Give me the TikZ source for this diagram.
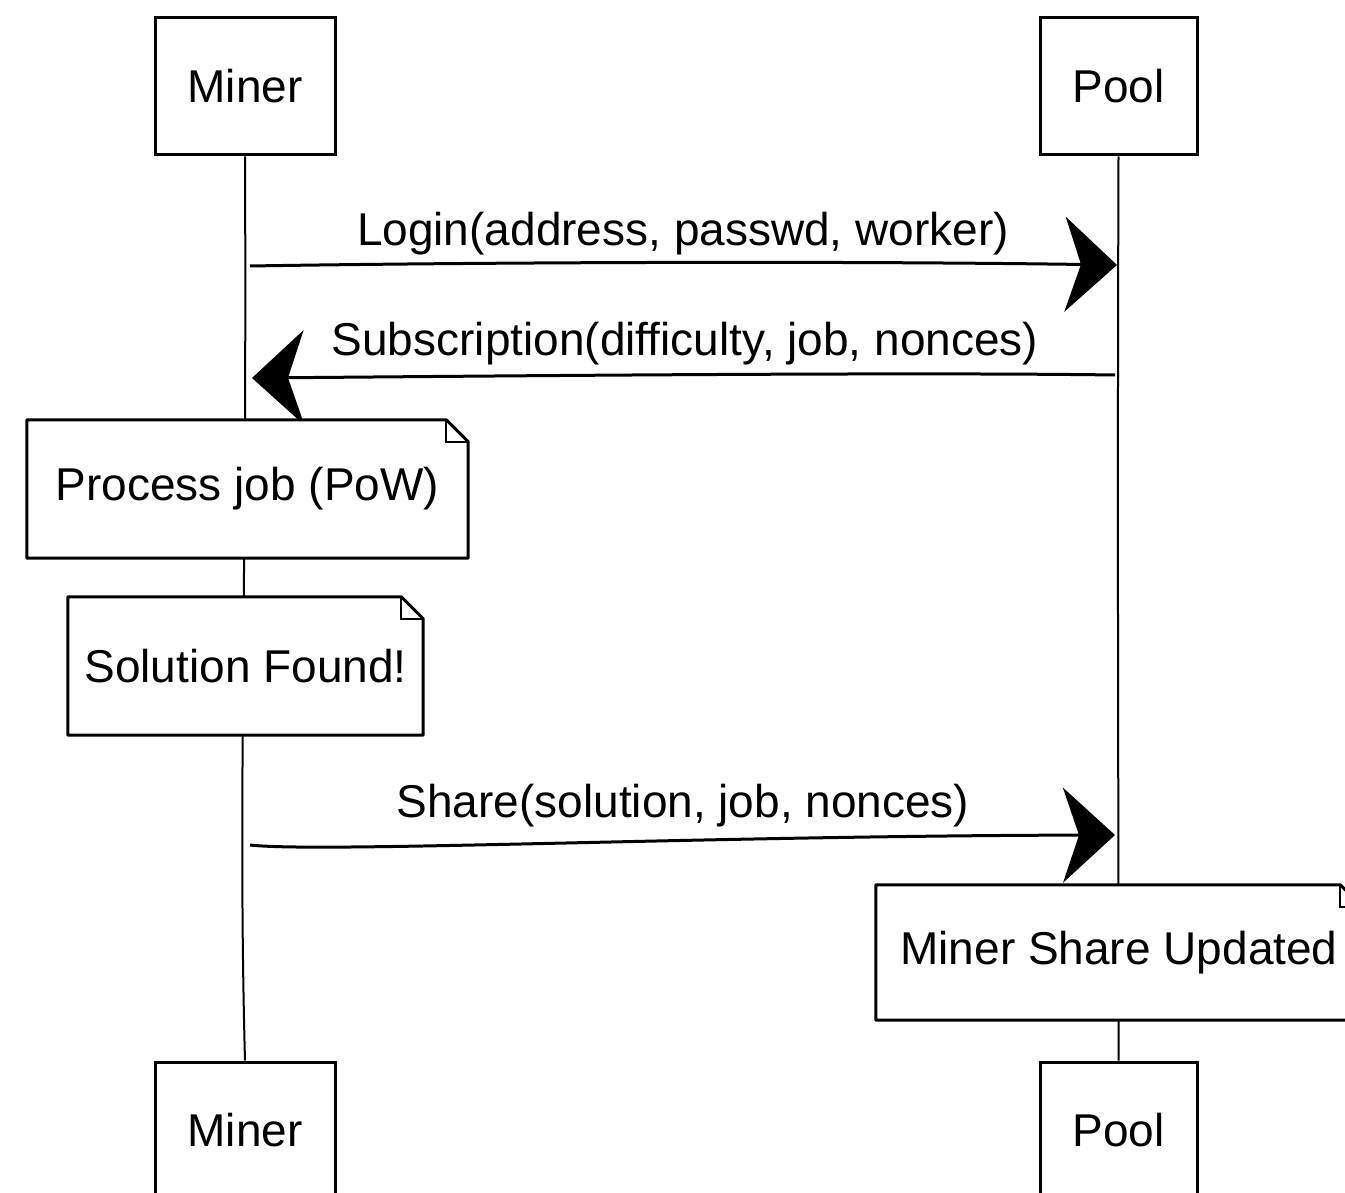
\documentclass[tikz,border=0pt]{standalone}
\usepackage{fontspec}
\setmainfont{Liberation Sans}
\usetikzlibrary{arrows.meta}
\begin{document}
\begin{tikzpicture}[x=1pt,y=-1pt,
  every node/.style={font=\fontsize{46}{50}\selectfont},
  actor/.style={draw, line width=3pt, fill=white, inner sep=0pt, minimum height=137pt},
  notebox/.style={fill=white, inner sep=0pt},
  noteline/.style={line width=3pt, line join=round},
  life/.style={line width=2pt},
  msg/.style={line width=3pt, -{Stealth[length=52pt,width=95pt,inset=16pt]}},
  lbl/.style={inner sep=0pt},
]
\useasboundingbox (0,0) rectangle (1345,1193);

% actors
\node[actor, minimum width=180pt] (minerTop) at (245,86.5) {Miner};
\node[actor, minimum width=157pt] (poolTop) at (1118.5,86.5) {Pool};
\node[actor, minimum width=180pt] (minerBot) at (245,1130.5) {Miner};
\node[actor, minimum width=157pt] (poolBot) at (1118.5,1130.5) {Pool};

% lifelines
\draw[life] (minerTop.south) .. controls (247,600) and (238,800) .. (minerBot.north);
\draw[life] (poolTop.south) .. controls (1117,600) and (1119,900) .. (poolBot.north);

% message end points on lifelines
\coordinate (m1) at (250,266);
\coordinate (p1) at (1117,265);
\coordinate (p2) at (1115,375);
\coordinate (m2) at (252,378);
\coordinate (m3) at (250,845);
\coordinate (p3) at (1115,835);

% messages
\draw[msg] (m1) .. controls (500,262) and (850,261) .. (p1);
\node[lbl] (l1) at (683,234) {Login(address, passwd, worker)};
\draw[msg] (p2) .. controls (900,372) and (500,376) .. (m2);
\node[lbl] (l2) at (685,344) {Subscription(difficulty, job, nonces)};
\draw[msg] (m3) .. controls (320,853) and (700,836) .. (p3);
\node[lbl] (l3) at (683,806) {Share(solution, job, nonces)};

% notes
\node[notebox, minimum width=441pt, minimum height=138pt] (n1) at (247.5,489) {Process job (PoW)};
\draw[noteline] (n1.north west) -- ([xshift=-22pt]n1.north east) -- ([yshift=-22pt]n1.north east)
  -- (n1.south east) -- (n1.south west) -- cycle;
\draw[line width=1.8pt] ([xshift=-22pt]n1.north east) -- ([xshift=-22pt,yshift=-22pt]n1.north east) -- ([yshift=-22pt]n1.north east);

\node[notebox, minimum width=355pt, minimum height=138pt] (n2) at (245.5,666) {Solution Found!};
\draw[noteline] (n2.north west) -- ([xshift=-22pt]n2.north east) -- ([yshift=-22pt]n2.north east)
  -- (n2.south east) -- (n2.south west) -- cycle;
\draw[line width=1.8pt] ([xshift=-22pt]n2.north east) -- ([xshift=-22pt,yshift=-22pt]n2.north east) -- ([yshift=-22pt]n2.north east);

\node[notebox, minimum width=486pt, minimum height=135pt] (n3) at (1119,952.5) {Miner Share Updated};
\draw[noteline] (n3.north west) -- ([xshift=-22pt]n3.north east) -- ([yshift=-22pt]n3.north east)
  -- (n3.south east) -- (n3.south west) -- cycle;
\draw[line width=1.8pt] ([xshift=-22pt]n3.north east) -- ([xshift=-22pt,yshift=-22pt]n3.north east) -- ([yshift=-22pt]n3.north east);
\end{tikzpicture}
\end{document}
